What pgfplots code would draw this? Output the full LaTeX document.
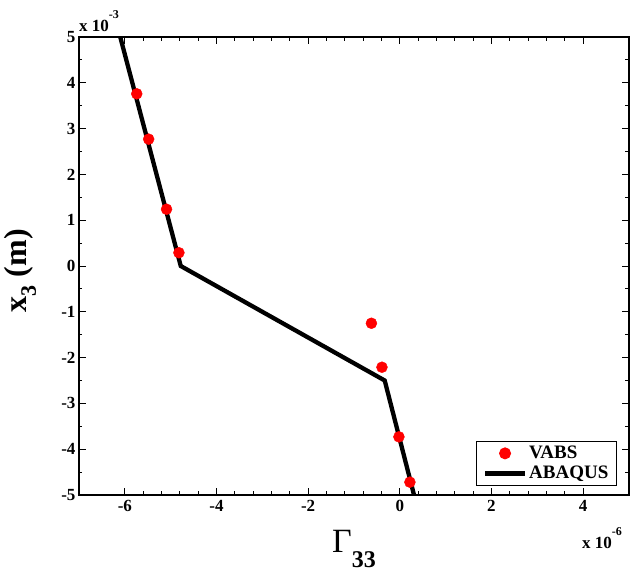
\documentclass[border=0pt]{standalone}
\usepackage{pgfplots}
\pgfplotsset{compat=1.18}
\usepackage{fontspec}
\setmainfont{Liberation Serif}
\pgfplotsset{
  dotleg/.style={legend image code/.code={\draw[##1] plot coordinates {(20pt,0pt)};}},
  lineleg/.style={legend image code/.code={\draw[##1] (0pt,0pt) -- (40pt,0pt);}},
}
\begin{document}
\begin{tikzpicture}
\begin{axis}[
  at={(0,0)}, anchor=south west,
  scale only axis, width=550pt, height=458pt,
  xmin=-7, xmax=5, ymin=-5, ymax=5,
  xtick={-6,-4,-2,0,2,4}, ytick={-5,-4,-3,-2,-1,0,1,2,3,4,5},
  minor x tick num=4, minor y tick num=1,
  tick align=inside, xtick pos=both, ytick pos=both,
  major tick length=7pt, minor tick length=3.5pt,
  every tick/.style={black, line width=0.9pt},
  axis line style={line width=1.4pt},
  /pgf/number format/assume math mode=true,
  ticklabel style={font=\fontsize{17}{17}\selectfont\bfseries},
  xticklabel style={yshift=-2pt},
  xlabel={\fontsize{34}{36}\selectfont Γ\raisebox{-0.45em}{\fontsize{24}{24}\selectfont\bfseries 33}},
  xlabel style={at={(axis description cs:0.5,-0.1245)}, anchor=base},
  ylabel={\fontsize{32}{36}\selectfont\bfseries x\raisebox{-0.3em}{\fontsize{22}{24}\selectfont 3} (m)},
  ylabel style={at={(axis description cs:-0.107,0.49)}, anchor=center},
  legend style={at={(axis description cs:0.978,0.0197)}, anchor=south east,
    draw=black, line width=1pt, font=\fontsize{19}{20}\selectfont\bfseries,
    row sep=2pt, inner xsep=6pt, inner ysep=3pt, cells={anchor=west}},
  legend cell align=left,
  clip=false,
]
\addplot[only marks, mark=*, color=red, mark size=5.5pt, dotleg]
  coordinates {
  (-5.74,3.76) (-5.48,2.77) (-5.09,1.24) (-4.82,0.29)
  (-0.62,-1.25) (-0.39,-2.21) (-0.02,-3.73) (0.22,-4.72)
  };
\addlegendentry{VABS}
\addplot[black, line width=4.3pt, no marks, lineleg]
  coordinates {(-6.10,5) (-4.78,0) (-0.33,-2.5) (0.31,-5)};
\addlegendentry{ABAQUS}
\node[anchor=base west, inner sep=0pt, font=\fontsize{17}{17}\selectfont\bfseries]
  at (axis description cs:0,1) [yshift=6pt] {x 10\raisebox{0.75em}{\fontsize{12}{12}\selectfont -3}};
\node[anchor=base east, inner sep=0pt, font=\fontsize{17}{17}\selectfont\bfseries]
  at (axis description cs:1,0) [yshift=-53pt, xshift=-7pt] {x 10\raisebox{0.75em}{\fontsize{12}{12}\selectfont -6}};
\end{axis}
\pgfresetboundingbox
\path[use as bounding box] (-79pt,-78pt) rectangle (551pt,495pt);
\end{tikzpicture}
\end{document}
